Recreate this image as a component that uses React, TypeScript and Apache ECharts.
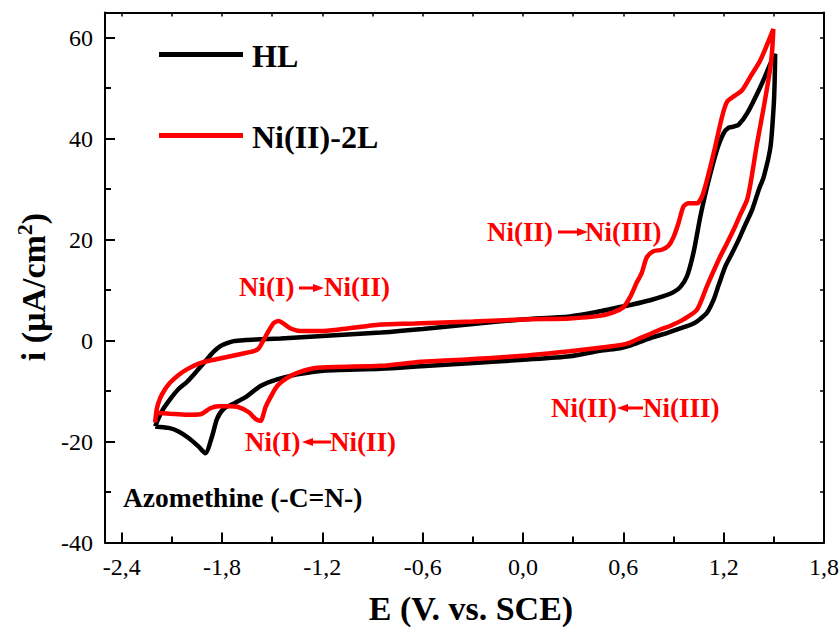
import React, { useEffect, useRef } from 'react';
import * as echarts from 'echarts';

const FONT = '"Liberation Serif", "Times New Roman", Times, serif';

// Axis ticks
const xMajorTicks = [-2.4, -1.8, -1.2, -0.6, 0, 0.6, 1.2, 1.8];
const xMinorTicks = [-2.1, -1.5, -0.9, -0.3, 0.3, 0.9, 1.5];
const yMajorTicks = [-40, -20, 0, 20, 40, 60];
const yMinorTicks = [-30, -10, 10, 30, 50];

// HL (black) – anodic sweep (-2.2 -> 1.5 V)
const hlAnodicE = [-2.20, -2.16, -2.11, -2.06, -2.01, -1.95, -1.89, -1.85, -1.81, -1.77, -1.73, -1.66, -1.60, -1.45, -1.20, -0.85, -0.60, -0.30, 0.00, 0.28, 0.46, 0.56, 0.66, 0.76, 0.84, 0.90, 0.94, 0.98, 1.02, 1.06, 1.09, 1.12, 1.16, 1.20, 1.23, 1.26, 1.29, 1.34, 1.42, 1.48, 1.508];
const hlAnodicI = [-17.0, -14.0, -11.6, -9.6, -8.2, -6.0, -3.7, -2.2, -1.1, -0.5, -0.1, 0.1, 0.2, 0.4, 0.9, 1.6, 2.3, 3.3, 4.2, 4.8, 5.8, 6.5, 7.2, 8.0, 8.8, 9.6, 10.6, 12.7, 17.5, 24.5, 29.0, 33.0, 37.8, 41.1, 42.2, 42.4, 42.8, 45.0, 50.3, 54.9, 56.8];
// HL (black) – cathodic sweep (1.5 -> -2.2 V)
const hlCathodicE = [1.505, 1.50, 1.48, 1.44, 1.41, 1.37, 1.33, 1.29, 1.25, 1.21, 1.17, 1.14, 1.10, 1.06, 1.02, 0.94, 0.86, 0.78, 0.72, 0.64, 0.58, 0.46, 0.28, 0.00, -0.32, -0.61, -0.85, -1.21, -1.35, -1.47, -1.57, -1.65, -1.72, -1.79, -1.83, -1.86, -1.90, -1.94, -2.00, -2.06, -2.12, -2.20];
const hlCathodicI = [51.5, 47.0, 38.4, 32.5, 29.9, 25.9, 23.0, 20.0, 17.3, 14.7, 11.0, 8.1, 5.5, 4.3, 3.4, 2.4, 1.5, 0.7, 0.0, -1.0, -1.5, -2.0, -3.1, -3.8, -4.5, -5.1, -5.6, -6.0, -6.7, -7.7, -9.0, -11.0, -12.3, -13.5, -15.5, -19.0, -22.3, -21.0, -19.3, -18.0, -17.3, -17.0];

// Ni(II)-2L (red) – anodic sweep
const niAnodicE = [-2.20, -2.19, -2.17, -2.14, -2.11, -2.06, -2.01, -1.95, -1.89, -1.82, -1.75, -1.68, -1.61, -1.58, -1.55, -1.52, -1.49, -1.46, -1.43, -1.39, -1.33, -1.21, -1.10, -0.95, -0.85, -0.65, -0.30, 0.00, 0.28, 0.46, 0.54, 0.60, 0.64, 0.68, 0.71, 0.74, 0.78, 0.83, 0.87, 0.90, 0.93, 0.96, 0.99, 1.04, 1.07, 1.10, 1.14, 1.19, 1.22, 1.27, 1.31, 1.36, 1.42, 1.497];
const niAnodicI = [-16.2, -13.5, -11.4, -9.6, -8.3, -6.8, -5.7, -4.7, -4.1, -3.6, -3.1, -2.6, -2.1, -1.5, 0.2, 2.0, 3.5, 3.9, 3.3, 2.4, 1.9, 1.9, 2.2, 2.8, 3.2, 3.4, 3.8, 4.2, 4.4, 4.9, 5.6, 6.6, 8.6, 11.5, 13.4, 16.5, 17.7, 18.0, 18.8, 20.5, 23.3, 26.6, 27.2, 27.2, 28.5, 31.8, 37.1, 44.3, 47.3, 48.6, 49.6, 52.3, 55.6, 61.7];
// Ni(II)-2L (red) – cathodic sweep
const niCathodicE = [1.49, 1.477, 1.44, 1.40, 1.36, 1.34, 1.30, 1.26, 1.22, 1.18, 1.14, 1.10, 1.04, 0.96, 0.88, 0.82, 0.76, 0.70, 0.64, 0.58, 0.46, 0.28, 0.00, -0.32, -0.61, -0.85, -1.23, -1.35, -1.41, -1.47, -1.51, -1.54, -1.57, -1.60, -1.64, -1.70, -1.76, -1.82, -1.87, -1.93, -2.01, -2.11, -2.20];
const niCathodicI = [57.5, 53.6, 46.3, 39.1, 31.0, 27.9, 25.0, 22.0, 19.3, 16.7, 13.8, 10.8, 6.1, 4.2, 2.9, 2.2, 1.3, 0.5, -0.4, -0.9, -1.4, -2.1, -3.0, -3.7, -4.2, -5.0, -5.4, -6.4, -7.4, -9.0, -11.2, -13.2, -15.9, -15.5, -14.2, -13.2, -13.0, -13.0, -13.4, -14.6, -14.7, -14.5, -14.3];

const seriesNames = ['HL', 'Ni(II)-2L'];

function zip(e: number[], i: number[]) {
  return e.map((v, k) => [v, i[k]]);
}

function txt(text: string, x: number, y: number, size: number, color: string, align = 'left', weight = 'bold') {
  return {
    type: 'text',
    x,
    y,
    z: 20,
    style: {
      text,
      fill: color,
      font: `${weight} ${size}px ${FONT}`,
      align,
      verticalAlign: 'middle',
      textAlign: align,
      textVerticalAlign: 'middle',
    },
  };
}

function arrow(xFrom: number, xTo: number, y: number, color: string) {
  const dir = xTo > xFrom ? 1 : -1;
  const headLen = 11;
  const half = 4;
  const base = xTo - dir * headLen;
  return [
    {
      type: 'line',
      z: 20,
      shape: { x1: xFrom, y1: y, x2: base + dir * 1, y2: y },
      style: { stroke: color, lineWidth: 3 },
    },
    {
      type: 'polygon',
      z: 20,
      shape: { points: [[base, y - half], [xTo, y], [base, y + half]] },
      style: { fill: color },
    },
  ];
}

export default function App() {
  const ref = useRef<HTMLDivElement>(null);

  useEffect(() => {
    document.body.style.margin = '0';
    const chart = echarts.init(ref.current!, null, { renderer: 'svg' });
    const fmtX = (v: number) => v.toFixed(1).replace('.', ',');
    const axisLineStyle = { color: '#000', width: 2 };
    const hlData = [...zip(hlAnodicE, hlAnodicI), ...zip(hlCathodicE, hlCathodicI)];
    const niData = [...zip(niAnodicE, niAnodicI), ...zip(niCathodicE, niCathodicI)];
    const red = '#ff0000';

    const option: any = {
      animation: false,
      backgroundColor: '#fff',
      grid: { left: 105, top: 12.5, right: 16, bottom: 85.5, containLabel: false, outerBoundsMode: 'none' },
      xAxis: [
        {
          type: 'value', min: -2.5, max: 1.8, position: 'bottom',
          axisLine: { show: true, onZero: false, lineStyle: axisLineStyle },
          axisTick: { show: true, inside: true, length: 10, customValues: xMajorTicks, lineStyle: { color: '#000', width: 2 } },
          axisLabel: { show: true, customValues: xMajorTicks, formatter: fmtX, margin: 12, color: '#000', fontFamily: FONT, fontSize: 24 },
          splitLine: { show: false },
        },
        {
          type: 'value', min: -2.5, max: 1.8, position: 'bottom',
          axisLine: { show: false, onZero: false },
          axisTick: { show: true, inside: true, length: 6, customValues: xMinorTicks, lineStyle: { color: '#000', width: 2 } },
          axisLabel: { show: false },
          splitLine: { show: false },
        },
        {
          type: 'value', min: -2.5, max: 1.8, position: 'top',
          axisLine: { show: true, onZero: false, lineStyle: axisLineStyle },
          axisTick: { show: true, inside: true, length: 4, customValues: [...xMajorTicks, ...xMinorTicks], lineStyle: { color: '#000', width: 1.5 } },
          axisLabel: { show: false },
          splitLine: { show: false },
        },
      ],
      yAxis: [
        {
          type: 'value', min: -40, max: 65, position: 'left',
          axisLine: { show: true, onZero: false, lineStyle: axisLineStyle },
          axisTick: { show: true, inside: true, length: 10, customValues: yMajorTicks, lineStyle: { color: '#000', width: 2 } },
          axisLabel: { show: true, customValues: yMajorTicks, margin: 12, color: '#000', fontFamily: FONT, fontSize: 24 },
          splitLine: { show: false },
        },
        {
          type: 'value', min: -40, max: 65, position: 'left',
          axisLine: { show: false, onZero: false },
          axisTick: { show: true, inside: true, length: 6, customValues: yMinorTicks, lineStyle: { color: '#000', width: 2 } },
          axisLabel: { show: false },
          splitLine: { show: false },
        },
        {
          type: 'value', min: -40, max: 65, position: 'right',
          axisLine: { show: true, onZero: false, lineStyle: axisLineStyle },
          axisTick: { show: true, inside: true, length: 4, customValues: [...yMajorTicks, ...yMinorTicks], lineStyle: { color: '#000', width: 1.5 } },
          axisLabel: { show: false },
          splitLine: { show: false },
        },
      ],
      series: [
        {
          name: seriesNames[0], type: 'line', xAxisIndex: 0, yAxisIndex: 0,
          data: hlData, showSymbol: false, symbol: 'none', smooth: 0.25,
          lineStyle: { color: '#000', width: 4.5 }, z: 3,
        },
        {
          name: seriesNames[1], type: 'line', xAxisIndex: 0, yAxisIndex: 0,
          data: niData, showSymbol: false, symbol: 'none', smooth: 0.25,
          lineStyle: { color: red, width: 4.5 }, z: 4,
        },
      ],
      graphic: [
        // legend
        { type: 'line', z: 20, shape: { x1: 159, y1: 54.5, x2: 243, y2: 54.5 }, style: { stroke: '#000', lineWidth: 5 } },
        txt(seriesNames[0], 252, 56, 32, '#000'),
        { type: 'line', z: 20, shape: { x1: 159, y1: 135.5, x2: 243, y2: 135.5 }, style: { stroke: red, lineWidth: 5 } },
        txt(seriesNames[1], 252, 137, 32, '#000'),
        // annotations
        txt('Ni(I)', 239, 287, 27, red),
        ...arrow(299, 324, 288, red),
        txt('Ni(II)', 324, 287, 27, red),
        txt('Ni(I)', 245, 442, 27, red),
        ...arrow(331, 302, 442, red),
        txt('Ni(II)', 330, 442, 27, red),
        txt('Ni(II)', 487, 232, 27, red),
        ...arrow(558, 588, 232, red),
        txt('Ni(III)', 585, 232, 27, red),
        txt('Ni(II)', 551, 408, 27, red),
        ...arrow(643, 617, 408, red),
        txt('Ni(III)', 643, 408, 27, red),
        txt('Azomethine (-C=N-)', 123, 497, 27.5, '#000'),
        // axis titles
        txt('E (V. vs. SCE)', 471, 608, 34, '#000', 'center'),
        {
          type: 'text', x: 33, y: 287, rotation: Math.PI / 2, z: 20,
          style: {
            text: '{a|i (μA/cm}{b|2}{a|)}',
            align: 'center', verticalAlign: 'middle', textAlign: 'center', textVerticalAlign: 'middle',
            rich: {
              a: { font: `bold 34px ${FONT}`, fill: '#000' },
              b: { font: `bold 22px ${FONT}`, fill: '#000', padding: [0, 0, 18, 0] },
            },
          },
        },
      ],
    };
    chart.setOption(option);
    return () => chart.dispose();
  }, []);

  return <div ref={ref} style={{ width: 840, height: 628 }} />;
}
